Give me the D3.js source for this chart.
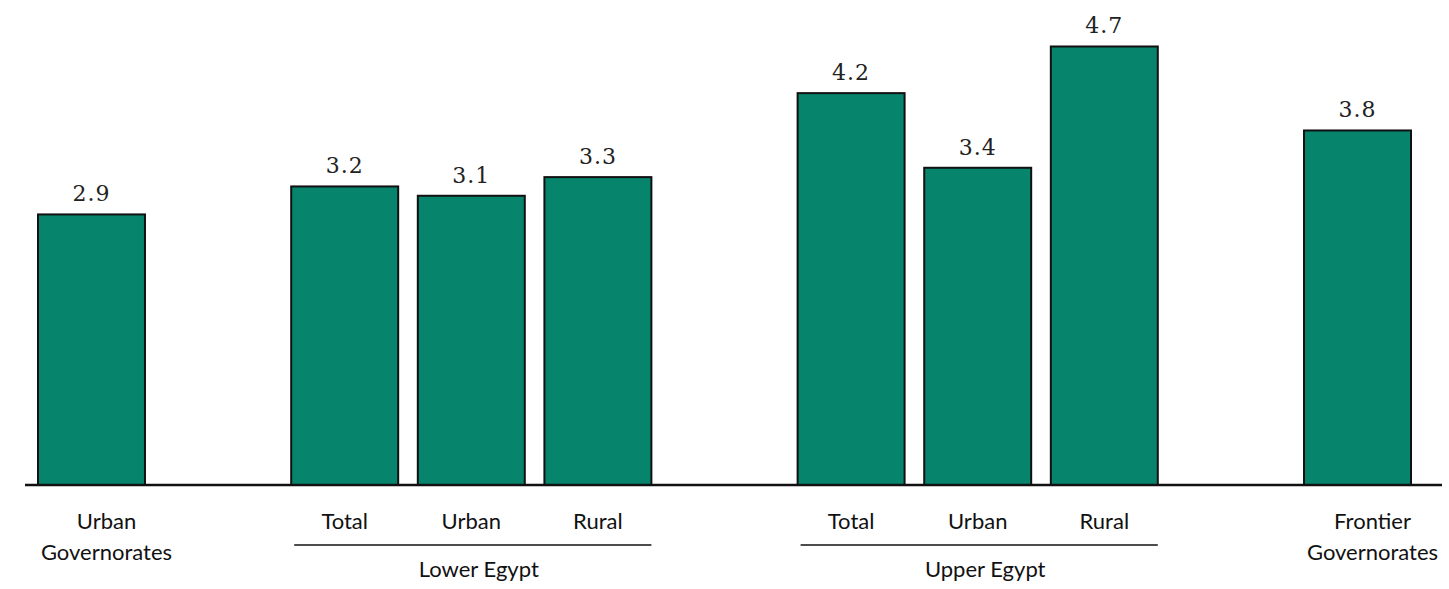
<!DOCTYPE html>
<html>
<head>
<meta charset="utf-8">
<script src="https://cdn.jsdelivr.net/npm/d3@7"></script>
<style>
  body { margin: 0; background: #fff; }
  svg { display: block; }
</style>
</head>
<body>
<div id="chart"></div>
<script>
'use strict';

// slots along the axis, gaps are empty slots
var slots = ['urbanGov', 'gap1', 'lowerTotal', 'lowerUrban', 'lowerRural', 'gap2',
             'upperTotal', 'upperUrban', 'upperRural', 'gap3', 'frontierGov'];
var barKeys = ['urbanGov', 'lowerTotal', 'lowerUrban', 'lowerRural',
               'upperTotal', 'upperUrban', 'upperRural', 'frontierGov'];
var values = [2.9, 3.2, 3.1, 3.3, 4.2, 3.4, 4.7, 3.8];
var barLabels = [['Urban', 'Governorates'], ['Total'], ['Urban'], ['Rural'],
                 ['Total'], ['Urban'], ['Rural'], ['Frontier', 'Governorates']];
var groups = [
    { name: 'Lower Egypt', first: 'lowerTotal', last: 'lowerRural' },
    { name: 'Upper Egypt', first: 'upperTotal', last: 'upperRural' }
];

var w = 1449, h = 589;
var baseY = 485;

var svg = d3.select('#chart')
    .append('svg')
    .attr('width', w)
    .attr('height', h);

var x = d3.scaleBand()
    .domain(slots)
    .range([38, 1411])
    .paddingInner(0.155)
    .paddingOuter(0);

var y = d3.scaleLinear()
    .domain([0, 5])
    .range([baseY, baseY - 5 * 93.3]);

var data = barKeys.map(function(k, i) {
    return { key: k, value: values[i], label: barLabels[i] };
});

svg.selectAll('rect.bar')
    .data(data)
    .enter()
    .append('rect')
    .attr('class', 'bar')
    .attr('x', function(d) { return x(d.key); })
    .attr('y', function(d) { return y(d.value); })
    .attr('width', x.bandwidth())
    .attr('height', function(d) { return baseY - y(d.value); })
    .attr('fill', '#07846c')
    .attr('stroke', '#111')
    .attr('stroke-width', 2);

// value labels
svg.selectAll('text.val')
    .data(data)
    .enter()
    .append('text')
    .attr('class', 'val')
    .attr('x', function(d) { return x(d.key) + x.bandwidth() / 2; })
    .attr('y', function(d) { return y(d.value) - 13; })
    .attr('text-anchor', 'middle')
    .attr('font-family', 'DejaVu Serif')
    .attr('font-size', 22)
    .attr('letter-spacing', 1)
    .attr('fill', '#222')
    .text(function(d) { return d.value.toFixed(1); });

// baseline
svg.append('line')
    .attr('x1', 25)
    .attr('x2', 1442)
    .attr('y1', baseY)
    .attr('y2', baseY)
    .attr('stroke', '#111')
    .attr('stroke-width', 2.5);

// category labels
var cat = svg.selectAll('text.cat')
    .data(data)
    .enter()
    .append('text')
    .attr('class', 'cat')
    .attr('text-anchor', 'middle')
    .attr('font-family', 'Lato')
    .attr('font-size', 22)
    .attr('fill', '#111')
    .attr('transform', function(d) {
        var cx = x(d.key) + x.bandwidth() / 2;
        if (d.label.length > 1) cx += 15;
        return 'translate(' + cx + ',529)';
    });

cat.selectAll('tspan')
    .data(function(d) { return d.label; })
    .enter()
    .append('tspan')
    .attr('x', 0)
    .attr('dy', function(d, i) { return i === 0 ? 0 : 31; })
    .text(function(d) { return d; });

// group brackets
groups.forEach(function(g) {
    var x1 = x(g.first) + 3;
    var x2 = x(g.last) + x.bandwidth();
    svg.append('line')
        .attr('x1', x1)
        .attr('x2', x2)
        .attr('y1', 545)
        .attr('y2', 545)
        .attr('stroke', '#111')
        .attr('stroke-width', 1.5);
    svg.append('text')
        .attr('x', (x1 + x2) / 2 + 6)
        .attr('y', 577)
        .attr('text-anchor', 'middle')
        .attr('font-family', 'Lato')
        .attr('font-size', 22)
        .attr('fill', '#111')
        .text(g.name);
});
</script>
</body>
</html>
